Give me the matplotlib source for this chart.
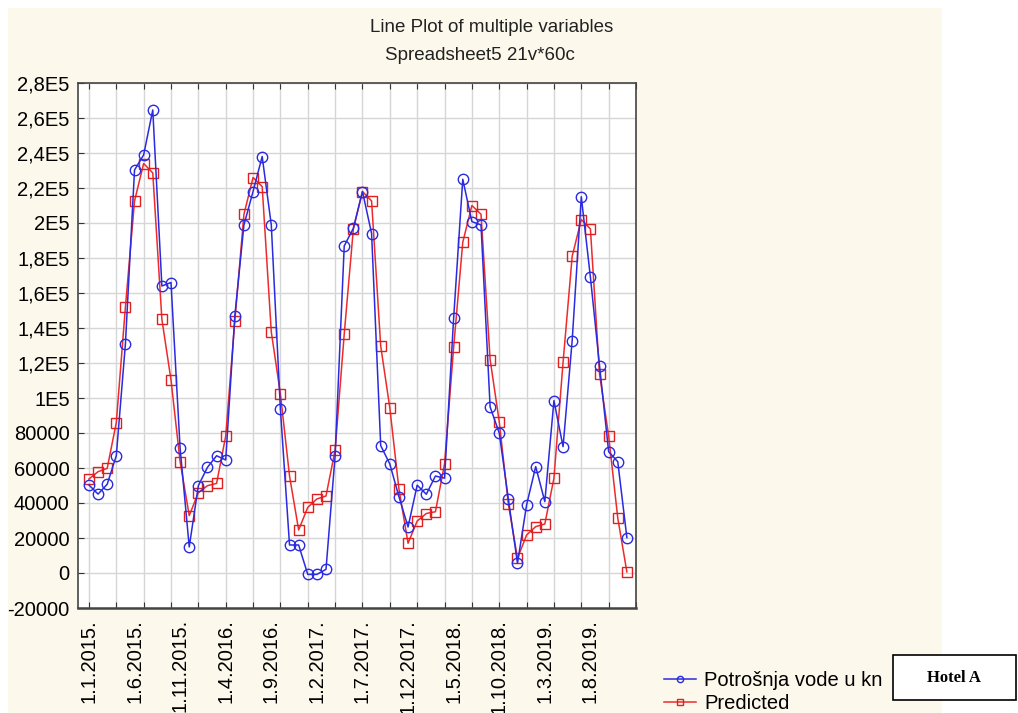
import numpy as np
import matplotlib
matplotlib.use("Agg")
import matplotlib.pyplot as plt
import matplotlib.patches as mpatches

plt.rcParams['font.family'] = ['Liberation Sans', 'DejaVu Sans']

# DATOS (miles de kn)
potrosnja = [50.3, 45.1, 50.7, 67.0, 130.9, 230.3, 238.9, 264.6, 164.0, 166.0,
             71.2, 14.9, 49.9, 60.4, 67.0, 64.6, 146.9, 198.9, 218.0, 238.0,
             198.9, 93.5, 16.0, 16.0, -0.8, -0.8, 2.1, 67.0, 186.9, 197.0,
             218.0, 194.0, 72.8, 62.3, 43.6, 26.3, 50.2, 45.0, 55.4, 54.2,
             145.7, 225.0, 200.8, 198.9, 94.9, 80.0, 42.3, 5.5, 38.9, 60.8,
             40.8, 98.5, 72.2, 132.8, 215.0, 169.0, 118.5, 69.3, 63.6, 20.2]
predicted = [53.7, 57.9, 59.8, 85.9, 152.0, 212.6, 234.0, 228.6, 145.0, 110.3,
             63.6, 32.8, 45.9, 49.9, 51.2, 78.3, 144.0, 205.0, 226.0, 220.8,
             137.7, 102.3, 55.4, 24.6, 37.5, 42.3, 44.0, 70.3, 136.6, 196.6,
             218.0, 212.6, 129.7, 94.3, 48.0, 17.0, 29.7, 34.0, 35.0, 62.3,
             129.0, 189.0, 210.0, 205.0, 122.0, 86.5, 39.4, 8.4, 21.7, 26.5,
             28.0, 54.2, 120.4, 181.0, 202.0, 196.6, 113.7, 78.3, 31.4, 0.6]
x_labels = ['1.1.2015.', '1.6.2015.', '1.11.2015.', '1.4.2016.', '1.9.2016.',
            '1.2.2017.', '1.7.2017.', '1.12.2017.', '1.5.2018.', '1.10.2018.',
            '1.3.2019.', '1.8.2019.']
y_vals = [-20000, 0, 20000, 40000, 60000, 80000, 100000, 120000, 140000,
          160000, 180000, 200000, 220000, 240000, 260000, 280000]
y_labels = ['-20000', '0', '20000', '40000', '60000', '80000', '1E5', '1,2E5',
            '1,4E5', '1,6E5', '1,8E5', '2E5', '2,2E5', '2,4E5', '2,6E5', '2,8E5']

pot = np.array(potrosnja) * 1000
pred = np.array(predicted) * 1000
idx = np.arange(len(pot))

W, H = 1018, 713
fig = plt.figure(figsize=(W / 100, H / 100), dpi=100)
fig.patch.set_facecolor('white')

# fondo crema
fig.patches.append(mpatches.Rectangle((8 / W, 0), 934 / W, 705 / H,
                                      transform=fig.transFigure,
                                      facecolor='#fcf8eb', edgecolor='none',
                                      zorder=-10))

ax = fig.add_axes([78 / W, (H - 608) / H, (636 - 78) / W, 525 / H])
ax.set_facecolor('white')

ax.plot(idx, pot, color='#2a2ae0', linewidth=1.1, marker='o', markersize=7.5,
        markerfacecolor='none', markeredgecolor='#2a2ae0', markeredgewidth=1.0,
        label='Potrošnja vode u kn', zorder=4)
ax.plot(idx, pred, color='#ee2a2a', linewidth=1.1, marker='s', markersize=7.5,
        markerfacecolor='none', markeredgecolor='#e02020', markeredgewidth=1.0,
        label='Predicted', zorder=3)

ax.set_xlim(-1.2, 60)
ax.set_ylim(-20000, 280000)

# ticks / rejilla
ax.xaxis.remove_overlapping_locs = False
ax.set_xticks(np.arange(0, 61, 3))
ax.set_xticklabels([])
ax.set_xticks(np.arange(0, 60, 5), minor=True)
ax.set_xticklabels(x_labels, minor=True, rotation=90, fontsize=14.5,
                   va='top', ha='center')
ax.tick_params(axis='x', which='minor', length=0, pad=8)
ax.tick_params(axis='x', which='major', direction='in', length=4,
               top=True, bottom=True, color='#333333')
ax.set_yticks(y_vals)
ax.set_yticklabels(y_labels, fontsize=14.5)
ax.tick_params(axis='y', direction='in', length=4, left=True, right=False,
               color='#333333', pad=6)
ax.grid(True, which='major', color='#d6d6d6', linewidth=1.0)
ax.set_axisbelow(True)
for s in ax.spines.values():
    s.set_color('#444444')
    s.set_linewidth(1.2)
ax.spines['bottom'].set_linewidth(1.8)

# titulo
fig.text(492 / W, 1 - 28 / H, 'Line Plot of multiple variables',
         ha='center', va='center', fontsize=13.5, color='#222222')
fig.text(480 / W, 1 - 56 / H, 'Spreadsheet5 21v*60c',
         ha='center', va='center', fontsize=13.5, color='#222222')

# leyenda
fig.legend(loc='upper left', bbox_to_anchor=(664 / W, 1 - 671 / H),
           frameon=False, fontsize=14.5, handlelength=1.6, handletextpad=0.4,
           labelspacing=0.2, borderaxespad=0, borderpad=0, markerscale=0.6)

# recuadro "Hotel A"
fig.patches.append(mpatches.Rectangle((893 / W, 1 - 700 / H), 123 / W, 45 / H,
                                      transform=fig.transFigure,
                                      facecolor='white', edgecolor='black',
                                      linewidth=1.2, zorder=10))
fig.text(954 / W, 1 - 678 / H, 'Hotel A', ha='center', va='center',
         fontsize=12, fontweight='bold', family=['Liberation Serif', 'DejaVu Serif'],
         zorder=11)

plt.savefig('out.png', dpi=100)
